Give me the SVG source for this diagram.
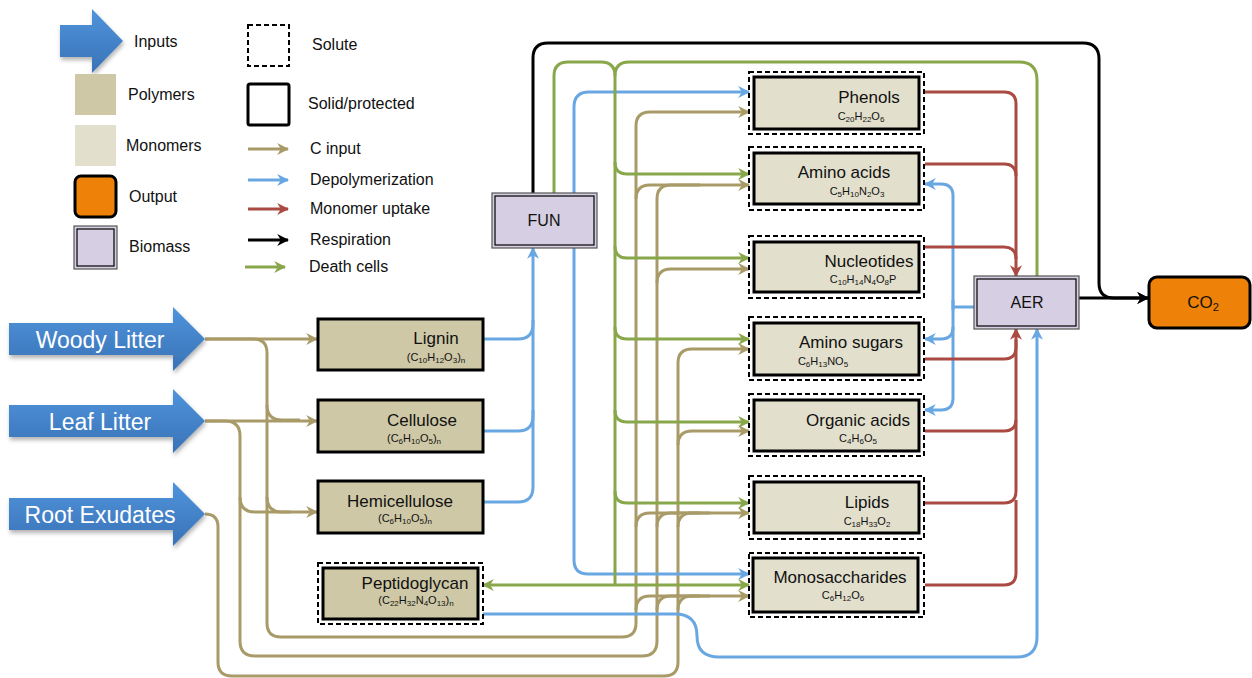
<svg xmlns="http://www.w3.org/2000/svg" width="1252" height="678" viewBox="0 0 1252 678">
<style>
text{font-family:"Liberation Sans",Arial,sans-serif;fill:#111}
.lg{font-size:16px}
.nm{font-size:17px}
.f{font-size:11px}
.s{font-size:8px}
.s2{font-size:11px}
.big{font-size:23px;fill:#fff}
.poly{fill:#CEC8A6;stroke:#000;stroke-width:3}
.mono{fill:#E2DFCC;stroke:#000;stroke-width:3}
.dash{fill:none;stroke:#000;stroke-width:2;stroke-dasharray:5,3}
.bio-o{fill:#D6CEE2;stroke:#555;stroke-width:1.2}
.bio-i{fill:none;stroke:#000;stroke-width:1.2}
.c{fill:none;stroke-width:3}
.tan{stroke:#A99B68}
.blu{stroke:#69A7E2}
.red{stroke:#AA4A42}
.blk{stroke:#000}
.grn{stroke:#88A74A}
.ta{marker-end:url(#mTan)}
.ba{marker-end:url(#mBlu)}
.ra{marker-end:url(#mRed)}
.ka{marker-end:url(#mBlk)}
.ga{marker-end:url(#mGrn)}
</style>
<defs>
<linearGradient id="gIn" x1="0" y1="0" x2="0" y2="1">
<stop offset="0" stop-color="#4F94DC"/>
<stop offset="1" stop-color="#3A72B6"/>
</linearGradient>
<filter id="sh" x="-10%" y="-10%" width="130%" height="140%">
<feDropShadow dx="1" dy="3" stdDeviation="2" flood-color="#000" flood-opacity="0.3"/>
</filter>
<marker id="mTan" viewBox="0 0 10 10" refX="9" refY="5" markerWidth="12" markerHeight="12" markerUnits="userSpaceOnUse" orient="auto"><path d="M0,0 L10,5 L0,10 L3,5 z" fill="#A99B68"/></marker>
<marker id="mBlu" viewBox="0 0 10 10" refX="9" refY="5" markerWidth="12" markerHeight="12" markerUnits="userSpaceOnUse" orient="auto"><path d="M0,0 L10,5 L0,10 L3,5 z" fill="#69A7E2"/></marker>
<marker id="mRed" viewBox="0 0 10 10" refX="9" refY="5" markerWidth="12" markerHeight="12" markerUnits="userSpaceOnUse" orient="auto"><path d="M0,0 L10,5 L0,10 L3,5 z" fill="#AA4A42"/></marker>
<marker id="mBlk" viewBox="0 0 10 10" refX="9" refY="5" markerWidth="12" markerHeight="12" markerUnits="userSpaceOnUse" orient="auto"><path d="M0,0 L10,5 L0,10 L3,5 z" fill="#000"/></marker>
<marker id="mGrn" viewBox="0 0 10 10" refX="9" refY="5" markerWidth="12" markerHeight="12" markerUnits="userSpaceOnUse" orient="auto"><path d="M0,0 L10,5 L0,10 L3,5 z" fill="#88A74A"/></marker>
</defs>

<g id="legend">
<polygon points="60,25 92,25 92,9 123,41 92,73 92,57 60,57" fill="url(#gIn)" filter="url(#sh)"/>
<text class="lg" x="134" y="47">Inputs</text>
<rect x="75" y="74" width="41" height="41" fill="#CEC8A6"/>
<text class="lg" x="128" y="100">Polymers</text>
<rect x="75" y="125" width="41" height="41" fill="#E2DFCC"/>
<text class="lg" x="126" y="151">Monomers</text>
<rect x="75" y="176" width="41" height="41" rx="6" fill="#EE8208" stroke="#000" stroke-width="3"/>
<text class="lg" x="129" y="202">Output</text>
<rect x="74" y="226" width="43" height="43" class="bio-o"/>
<rect x="77" y="229" width="37" height="37" class="bio-i"/>
<text class="lg" x="129" y="252">Biomass</text>
<rect x="248" y="25" width="41" height="41" class="dash"/>
<text class="lg" x="312" y="50">Solute</text>
<rect x="248" y="84" width="41" height="41" rx="2" fill="none" stroke="#000" stroke-width="3"/>
<text class="lg" x="308" y="109">Solid/protected</text>
<path class="c tan ta" d="M248,149 H288"/>
<text class="lg" x="310" y="154">C input</text>
<path class="c blu ba" d="M248,180 H288"/>
<text class="lg" x="310" y="185">Depolymerization</text>
<path class="c red ra" d="M248,209 H288"/>
<text class="lg" x="310" y="214">Monomer uptake</text>
<path class="c blk ka" d="M248,240 H288"/>
<text class="lg" x="310" y="245">Respiration</text>
<path class="c grn ga" d="M245,267 H285"/>
<text class="lg" x="309" y="272">Death cells</text>
</g>

<g id="connectors">
<!-- C input (tan) -->
<path class="c tan ta" d="M205,339 H317"/>
<path class="c tan ta" d="M205,421 H317"/>
<path class="c tan ta" d="M205,339 H253 Q267,339 267,353 V623 Q267,637 281,637 H622 Q636,637 636,623 V126 Q636,112 650,112 H749"/>
<path class="c tan" d="M267,405 Q267,420 282,420 H300"/>
<path class="c tan ta" d="M267,497 Q267,512 282,512 H317"/>
<path class="c tan ta" d="M205,421 H225 Q240,421 240,436 V641 Q240,656 255,656 H642 Q657,656 657,641 V199 Q657,185 671,185 H749"/>
<path class="c tan" d="M240,497 Q240,512 255,512 H290"/>
<path class="c tan ta" d="M205,514 Q218,514 218,527 V662 Q218,676 232,676 H664 Q678,676 678,662 V363 Q678,349 692,349 H749"/>
<path class="c tan" d="M636,199 Q636,185 650,185 H700"/>
<path class="c tan ta" d="M657,283 Q657,269 671,269 H749"/>
<path class="c tan ta" d="M678,445 Q678,431 692,431 H749"/>
<path class="c tan ta" d="M636,527 Q636,513 650,513 H749"/>
<path class="c tan" d="M657,527 Q657,513 671,513 H700"/>
<path class="c tan" d="M678,527 Q678,513 692,513 H710"/>
<path class="c tan ta" d="M636,610 Q636,596 650,596 H749"/>
<path class="c tan" d="M657,610 Q657,596 671,596 H700"/>
<path class="c tan" d="M678,610 Q678,596 692,596 H710"/>
<!-- Depolymerization (blue) -->
<path class="c blu ba" d="M483,339 H518 Q533,339 533,324 V248"/>
<path class="c blu" d="M483,431 H518 Q533,431 533,416 V320"/>
<path class="c blu" d="M483,502 H518 Q533,502 533,487 V410"/>
<path class="c blu ba" d="M574,193 V107 Q574,92 589,92 H749"/>
<path class="c blu ba" d="M574,248 V560 Q574,574 588,574 H749"/>
<path class="c blu ba" d="M483,614 H675 Q697,614 697,636 Q697,657 719,657 H1017 Q1037,657 1037,637 V329"/>
<path class="c blu" d="M974,307 H953"/>
<path class="c blu ba" d="M953,310 V196 Q953,184 941,184 H925"/>
<path class="c blu ba" d="M953,300 V398 Q953,410 941,410 H925"/>
<path class="c blu ba" d="M953,327 Q953,339 941,339 H925"/>
<!-- Monomer uptake (red) -->
<path class="c red ra" d="M925,92 H1004 Q1016,92 1016,104 V276"/>
<path class="c red" d="M925,164 H1004 Q1016,164 1016,176"/>
<path class="c red" d="M925,247 H1004 Q1016,247 1016,259"/>
<path class="c red ra" d="M925,359 H1004 Q1016,359 1016,347 V329"/>
<path class="c red" d="M925,431 H1004 Q1016,431 1016,419 V340"/>
<path class="c red" d="M925,503 H1004 Q1016,503 1016,491 V420"/>
<path class="c red" d="M925,585 H1004 Q1016,585 1016,573 V500"/>
<!-- Respiration (black) -->
<path class="c blk ka" d="M533,193 V58 Q533,43 548,43 H1083 Q1099,43 1099,59 V283 Q1099,298 1114,298 H1148"/>
<path class="c blk ka" d="M1079,298 H1148"/>
<!-- Death cells (green) -->
<path class="c grn" d="M554,193 V76 Q554,62 568,62 H601 Q615,62 615,76 V585"/>
<path class="c grn" d="M1037,276 V80 Q1037,62 1019,62 H629 Q615,62 615,76"/>
<path class="c grn ga" d="M615,162 Q615,174 627,174 H749"/>
<path class="c grn ga" d="M615,246 Q615,258 627,258 H749"/>
<path class="c grn ga" d="M615,327 Q615,339 627,339 H749"/>
<path class="c grn ga" d="M615,410 Q615,422 627,422 H749"/>
<path class="c grn ga" d="M615,491 Q615,503 627,503 H749"/>
<path class="c grn ga" d="M615,585 H749"/>
<path class="c grn ga" d="M615,585 H483"/>
</g>

<g id="woody-litter">
<polygon points="9,323 173,323 173,307 205,339 173,371 173,355 9,355" fill="url(#gIn)" filter="url(#sh)"/>
<text class="big" x="100" y="348" text-anchor="middle">Woody Litter</text>
</g>
<g id="leaf-litter">
<polygon points="9,405 173,405 173,389 205,421 173,453 173,437 9,437" fill="url(#gIn)" filter="url(#sh)"/>
<text class="big" x="100" y="430" text-anchor="middle">Leaf Litter</text>
</g>
<g id="root-exudates">
<polygon points="9,498 173,498 173,482 205,514 173,546 173,530 9,530" fill="url(#gIn)" filter="url(#sh)"/>
<text class="big" x="100" y="523" text-anchor="middle">Root Exudates</text>
</g>

<g id="lignin">
<rect x="318" y="319" width="165" height="51" class="poly"/>
<text class="nm" x="436" y="344" text-anchor="middle">Lignin</text>
<text class="f" x="436" y="361" text-anchor="middle">(C<tspan class="s" dy="2">10</tspan><tspan dy="-2">H</tspan><tspan class="s" dy="2">12</tspan><tspan dy="-2">O</tspan><tspan class="s" dy="2">3</tspan><tspan dy="-2">)</tspan><tspan class="s" dy="2">n</tspan></text>
</g>
<g id="cellulose">
<rect x="318" y="400" width="165" height="52" class="poly"/>
<text class="nm" x="422" y="426" text-anchor="middle">Cellulose</text>
<text class="f" x="414" y="442" text-anchor="middle">(C<tspan class="s" dy="2">6</tspan><tspan dy="-2">H</tspan><tspan class="s" dy="2">10</tspan><tspan dy="-2">O</tspan><tspan class="s" dy="2">5</tspan><tspan dy="-2">)</tspan><tspan class="s" dy="2">n</tspan></text>
</g>
<g id="hemicellulose">
<rect x="318" y="481" width="165" height="52" class="poly"/>
<text class="nm" x="400" y="507" text-anchor="middle">Hemicellulose</text>
<text class="f" x="405" y="522" text-anchor="middle">(C<tspan class="s" dy="2">6</tspan><tspan dy="-2">H</tspan><tspan class="s" dy="2">10</tspan><tspan dy="-2">O</tspan><tspan class="s" dy="2">5</tspan><tspan dy="-2">)</tspan><tspan class="s" dy="2">n</tspan></text>
</g>
<g id="peptidoglycan">
<rect x="318" y="563" width="165" height="61" class="dash"/>
<rect x="323" y="568" width="155" height="51" class="poly"/>
<text class="nm" x="415" y="589" text-anchor="middle">Peptidoglycan</text>
<text class="f" x="416" y="604" text-anchor="middle">(C<tspan class="s" dy="2">22</tspan><tspan dy="-2">H</tspan><tspan class="s" dy="2">32</tspan><tspan dy="-2">N</tspan><tspan class="s" dy="2">4</tspan><tspan dy="-2">O</tspan><tspan class="s" dy="2">13</tspan><tspan dy="-2">)</tspan><tspan class="s" dy="2">n</tspan></text>
</g>

<g id="fun">
<rect x="492" y="193" width="105" height="55" class="bio-o"/>
<rect x="495" y="196" width="99" height="49" class="bio-i"/>
<text class="lg" x="544" y="226" text-anchor="middle">FUN</text>
</g>
<g id="aer">
<rect x="974" y="276" width="105" height="53" class="bio-o"/>
<rect x="977" y="279" width="99" height="47" class="bio-i"/>
<text class="lg" x="1027" y="308" text-anchor="middle">AER</text>
</g>
<g id="co2">
<rect x="1149" y="277" width="101" height="51" rx="8" fill="#EE8208" stroke="#000" stroke-width="3"/>
<text class="nm" x="1203" y="308" text-anchor="middle">CO<tspan class="s2" dy="3">2</tspan></text>
</g>

<g id="phenols">
<rect x="749" y="72" width="175" height="62" class="dash"/>
<rect x="754" y="77" width="165" height="52" class="mono"/>
<text class="nm" x="869" y="103" text-anchor="middle">Phenols</text>
<text class="f" x="861" y="120" text-anchor="middle">C<tspan class="s" dy="2">20</tspan><tspan dy="-2">H</tspan><tspan class="s" dy="2">22</tspan><tspan dy="-2">O</tspan><tspan class="s" dy="2">6</tspan></text>
</g>
<g id="amino-acids">
<rect x="749" y="147" width="175" height="63" class="dash"/>
<rect x="754" y="153" width="165" height="51" class="mono"/>
<text class="nm" x="844" y="178" text-anchor="middle">Amino acids</text>
<text class="f" x="857" y="195" text-anchor="middle">C<tspan class="s" dy="2">5</tspan><tspan dy="-2">H</tspan><tspan class="s" dy="2">10</tspan><tspan dy="-2">N</tspan><tspan class="s" dy="2">2</tspan><tspan dy="-2">O</tspan><tspan class="s" dy="2">3</tspan></text>
</g>
<g id="nucleotides">
<rect x="749" y="236" width="175" height="62" class="dash"/>
<rect x="754" y="242" width="165" height="50" class="mono"/>
<text class="nm" x="869" y="267" text-anchor="middle">Nucleotides</text>
<text class="f" x="863" y="283" text-anchor="middle">C<tspan class="s" dy="2">10</tspan><tspan dy="-2">H</tspan><tspan class="s" dy="2">14</tspan><tspan dy="-2">N</tspan><tspan class="s" dy="2">4</tspan><tspan dy="-2">O</tspan><tspan class="s" dy="2">8</tspan><tspan dy="-2">P</tspan></text>
</g>
<g id="amino-sugars">
<rect x="749" y="317" width="175" height="63" class="dash"/>
<rect x="754" y="323" width="165" height="52" class="mono"/>
<text class="nm" x="851" y="348" text-anchor="middle">Amino sugars</text>
<text class="f" x="823" y="365" text-anchor="middle">C<tspan class="s" dy="2">6</tspan><tspan dy="-2">H</tspan><tspan class="s" dy="2">13</tspan><tspan dy="-2">NO</tspan><tspan class="s" dy="2">5</tspan></text>
</g>
<g id="organic-acids">
<rect x="749" y="394" width="175" height="62" class="dash"/>
<rect x="754" y="400" width="165" height="51" class="mono"/>
<text class="nm" x="858" y="426" text-anchor="middle">Organic acids</text>
<text class="f" x="858" y="442" text-anchor="middle">C<tspan class="s" dy="2">4</tspan><tspan dy="-2">H</tspan><tspan class="s" dy="2">6</tspan><tspan dy="-2">O</tspan><tspan class="s" dy="2">5</tspan></text>
</g>
<g id="lipids">
<rect x="749" y="476" width="175" height="63" class="dash"/>
<rect x="754" y="482" width="165" height="51" class="mono"/>
<text class="nm" x="867" y="508" text-anchor="middle">Lipids</text>
<text class="f" x="867" y="525" text-anchor="middle">C<tspan class="s" dy="2">18</tspan><tspan dy="-2">H</tspan><tspan class="s" dy="2">33</tspan><tspan dy="-2">O</tspan><tspan class="s" dy="2">2</tspan></text>
</g>
<g id="monosaccharides">
<rect x="749" y="553" width="175" height="64" class="dash"/>
<rect x="753" y="558" width="165" height="54" class="mono"/>
<text class="nm" x="840" y="583" text-anchor="middle">Monosaccharides</text>
<text class="f" x="843" y="599" text-anchor="middle">C<tspan class="s" dy="2">6</tspan><tspan dy="-2">H</tspan><tspan class="s" dy="2">12</tspan><tspan dy="-2">O</tspan><tspan class="s" dy="2">6</tspan></text>
</g>
</svg>
